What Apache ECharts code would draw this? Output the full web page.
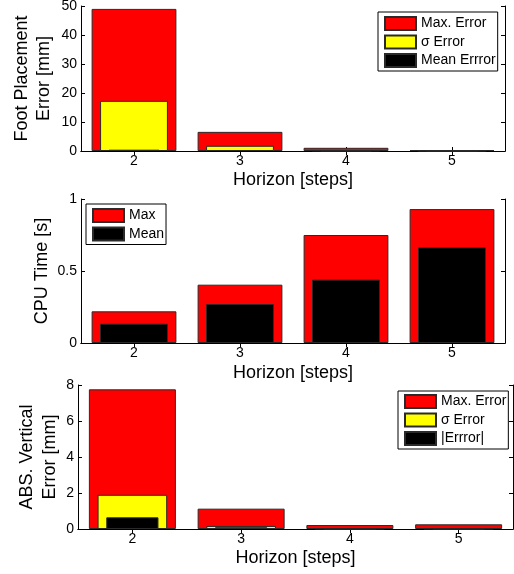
<!DOCTYPE html>
<html><head><meta charset="utf-8">
<script src="https://cdn.jsdelivr.net/npm/echarts@6/dist/echarts.min.js"></script>
<style>html,body{margin:0;padding:0;background:#fff}#c{width:514px;height:574px}</style>
</head><body><div id="c"></div>
<script>
// ---- data ----
const categories = ['2', '3', '4', '5'];
const footMax = [49, 6.6, 1.1, 0.3];
const footSigma = [17.3, 1.8, 0.15, 0.05];
const footMean = [0.45, 0.3, 0.05, 0.02];
const cpuMax = [0.22, 0.405, 0.75, 0.93];
const cpuMean = [0.134, 0.27, 0.44, 0.664];
const vertMax = [7.76, 1.13, 0.22, 0.26];
const vertSigma = [1.9, 0.17, 0.02, 0.02];
const vertMean = [0.65, 0.1, 0.01, 0.01];
const footTicks = { min: 0, max: 50, interval: 10 };
const cpuTicks = { min: 0, max: 1, interval: 0.5 };
const vertTicks = { min: 0, max: 8, interval: 2 };

const FONT = 'Liberation Sans, Arial, Helvetica, sans-serif';
const RED = '#ff0000', YEL = '#ffff00', BLK = '#000000';

const panels = [
  {
    grid: { left: 81, right: 9, top: 6, height: 145 },
    ticks: footTicks, yName: 'Foot Placement\nError [mm]', yNameGap: 26, yLH: 22, xNameGap: 18,
    series: [
      { name: 'Max. Error', data: footMax, color: RED, width: '80%' },
      { name: 'σ Error', data: footSigma, color: YEL, width: '64%' },
      { name: 'Mean Errror', data: footMean, color: BLK, width: '48%' }
    ],
    legend: { left: 378, top: 12, padding: [4, 2, 3, 6] }
  },
  {
    grid: { left: 81, right: 9, top: 199, height: 144 },
    ticks: cpuTicks, yName: 'CPU Time [s]', yNameGap: 28, yLH: 22, xNameGap: 19,
    series: [
      { name: 'Max', data: cpuMax, color: RED, width: '80%' },
      { name: 'Mean', data: cpuMean, color: BLK, width: '64%' }
    ],
    legend: { left: 86, top: 204, padding: [4, 2, 3, 6] }
  },
  {
    grid: { left: 78, right: 1, top: 385, height: 144 },
    ticks: vertTicks, yName: 'ABS. Vertical\nError [mm]', yNameGap: 16, yLH: 23, xNameGap: 18,
    series: [
      { name: 'Max. Error', data: vertMax, color: RED, width: '80%' },
      { name: 'σ Error', data: vertSigma, color: YEL, width: '64%' },
      { name: '|Errror|', data: vertMean, color: BLK, width: '48%' }
    ],
    legend: { left: 398, top: 391, padding: [3, 2, 3, 6] }
  }
];

const grid = [], xAxis = [], yAxis = [], series = [], legend = [];
const lineStyle = { color: '#000', width: 1 };

panels.forEach((p, g) => {
  grid.push(Object.assign({ outerBoundsMode: 'none', containLabel: false }, p.grid));
  const baseX = xAxis.length;
  xAxis.push({
    gridIndex: g, type: 'category', data: categories, position: 'bottom',
    axisLine: { show: true, lineStyle },
    axisTick: { show: true, inside: true, alignWithLabel: true, length: 4, lineStyle },
    axisLabel: { color: '#000', fontSize: 14, fontFamily: FONT, margin: 3 },
    splitLine: { show: false },
    name: 'Horizon [steps]', nameLocation: 'middle', nameGap: p.xNameGap, nameMoveOverlap: false,
    nameTextStyle: { color: '#000', fontSize: 18, fontFamily: FONT, lineHeight: 22 }
  });
  xAxis.push({
    gridIndex: g, type: 'category', data: categories, position: 'top',
    axisLine: { show: true, lineStyle },
    axisTick: { show: true, inside: true, alignWithLabel: true, length: 4, lineStyle },
    axisLabel: { show: false }, splitLine: { show: false }
  });
  const baseY = yAxis.length;
  yAxis.push({
    gridIndex: g, type: 'value', position: 'left',
    min: p.ticks.min, max: p.ticks.max, interval: p.ticks.interval,
    axisLine: { show: true, lineStyle },
    axisTick: { show: true, inside: true, length: 4, lineStyle },
    axisLabel: { color: '#000', fontSize: 14, fontFamily: FONT, margin: 4 },
    splitLine: { show: false },
    name: p.yName, nameLocation: 'middle', nameGap: p.yNameGap, nameMoveOverlap: false,
    nameTextStyle: { color: '#000', fontSize: 18, fontFamily: FONT, lineHeight: p.yLH }
  });
  yAxis.push({
    gridIndex: g, type: 'value', position: 'right',
    min: p.ticks.min, max: p.ticks.max, interval: p.ticks.interval,
    axisLine: { show: true, lineStyle },
    axisTick: { show: true, inside: true, length: 4, lineStyle },
    axisLabel: { show: false }, splitLine: { show: false }
  });
  p.series.forEach((s, i) => {
    let xi = baseX;
    if (i > 0) {
      xi = xAxis.length;
      xAxis.push({ gridIndex: g, type: 'category', data: categories, position: 'bottom', show: false });
    }
    series.push({
      type: 'bar', name: s.name, data: s.data, xAxisIndex: xi, yAxisIndex: baseY,
      barWidth: s.width, z: 2 + i,
      itemStyle: { color: s.color, borderColor: '#2a2a2a', borderWidth: 1 },
      emphasis: { disabled: true }
    });
  });
  legend.push(Object.assign({
    orient: 'vertical', data: p.series.map(s => s.name),
    itemWidth: 31, itemHeight: 13, itemGap: 3.5, icon: 'rect',
    backgroundColor: '#fff', borderColor: '#000', borderWidth: 1, borderRadius: 0,
    selectedMode: false,
    textStyle: { color: '#000', fontSize: 14, fontFamily: FONT }
  }, p.legend));
});

const chart = echarts.init(document.getElementById('c'), null, { renderer: 'canvas' });
chart.setOption({ animation: false, backgroundColor: '#fff', grid, xAxis, yAxis, series, legend });
</script>
</body></html>
